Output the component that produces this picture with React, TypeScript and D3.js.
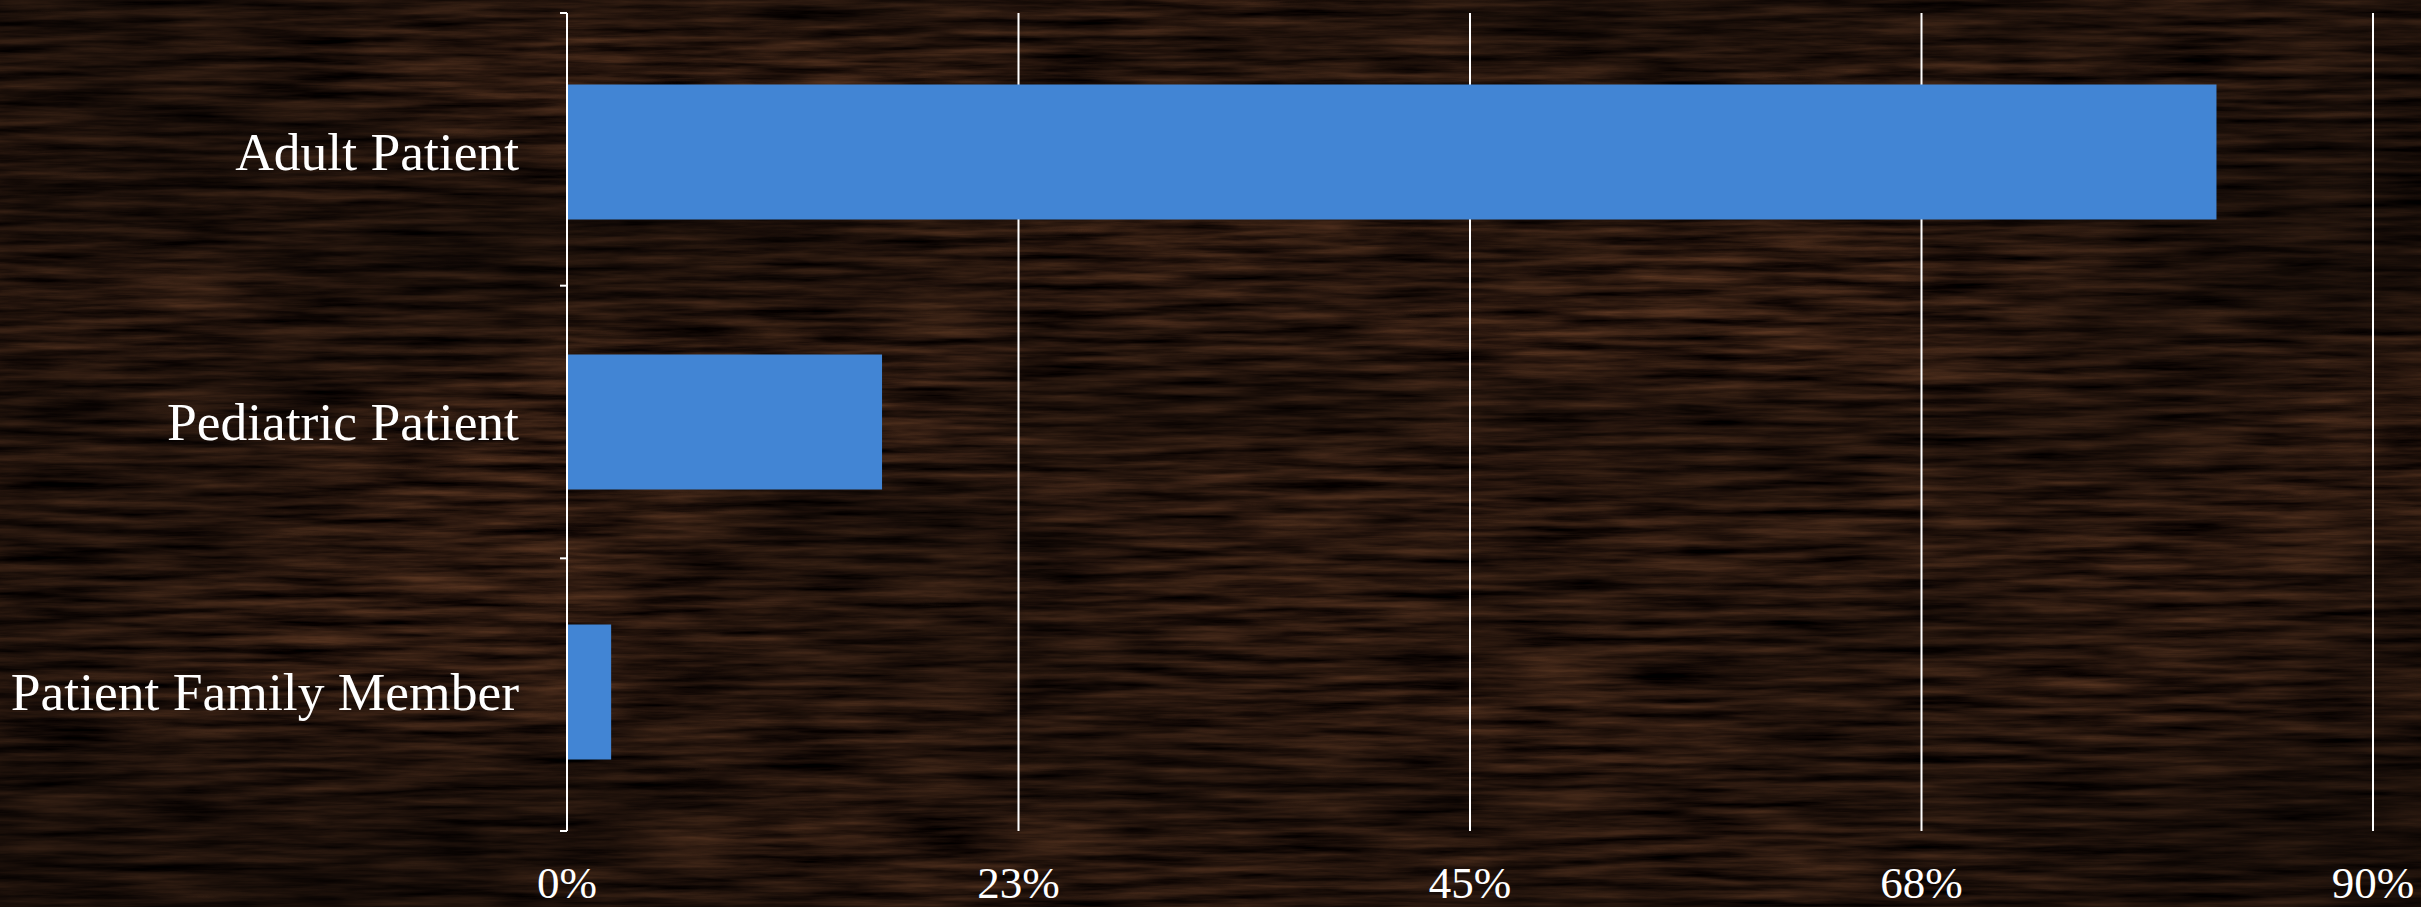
import React from "react";
import * as d3 from "d3";

const categories = ["Adult Patient", "Pediatric Patient", "Patient Family Member"];
const values = [0.822, 0.157, 0.022];
const tickValues = [0, 0.225, 0.45, 0.675, 0.9];

const W = 2421;
const H = 907;
const left = 567;
const right = 2373;
const top = 13;
const bottom = 831;

export default function App() {
  const x = d3.scaleLinear().domain([0, 0.9]).range([left, right]);
  const y = d3
    .scaleBand<string>()
    .domain(categories)
    .range([top + 4, bottom - 4])
    .paddingInner(0.5)
    .paddingOuter(0.25);
  const boundaries = d3.range(categories.length + 1).map((i) => top + i * ((bottom - top) / categories.length));
  const fmt = (v: number) => Math.round(v * 100) + "%";
  const serif = "'Liberation Serif', 'Times New Roman', serif";

  return (
    <svg
      width={W}
      height={H}
      style={{ position: "fixed", left: 0, top: 0, display: "block" }}
    >
      <defs>
        <filter id="wood" x="0" y="0" width="100%" height="100%" colorInterpolationFilters="sRGB">
          <feTurbulence type="fractalNoise" baseFrequency="0.008 0.11" numOctaves={5} seed={11} result="n" />
          <feColorMatrix
            in="n"
            type="matrix"
            values="0.5 0 0 0 -0.07  0.32 0 0 0 -0.06  0.2 0 0 0 -0.04  0 0 0 0 1"
            result="c"
          />
          <feTurbulence type="fractalNoise" baseFrequency="0.0015 0.006" numOctaves={2} seed={3} result="m" />
          <feColorMatrix
            in="m"
            type="matrix"
            values="0 0 0 0 0  0 0 0 0 0  0 0 0 0 0  0.9 0 0 0 -0.32"
            result="shade"
          />
          <feComposite in="shade" in2="c" operator="over" />
        </filter>
        <radialGradient id="vig" cx="0.5" cy="0.45" r="0.75">
          <stop offset="0" stopColor="#000" stopOpacity={0} />
          <stop offset="0.6" stopColor="#000" stopOpacity={0.1} />
          <stop offset="1" stopColor="#000" stopOpacity={0.5} />
        </radialGradient>
      </defs>
      <rect x={0} y={0} width={W} height={H} fill="#2a170e" />
      <rect x={0} y={0} width={W} height={H} filter="url(#wood)" />
      <rect x={0} y={0} width={W} height={H} fill="url(#vig)" />

      {tickValues.slice(1).map((t) => (
        <line key={"g" + t} x1={x(t)} x2={x(t)} y1={top} y2={bottom} stroke="#ffffff" strokeWidth={2} />
      ))}

      {categories.map((c, i) => (
        <rect
          key={c}
          x={x(0)}
          y={y(c)}
          width={x(values[i]) - x(0)}
          height={y.bandwidth()}
          fill="#4285d4"
        />
      ))}

      <line x1={x(0)} x2={x(0)} y1={top} y2={bottom} stroke="#ffffff" strokeWidth={2} />
      {boundaries.map((b, i) => (
        <line key={"t" + i} x1={x(0) - 7} x2={x(0)} y1={b} y2={b} stroke="#ffffff" strokeWidth={2} />
      ))}

      {categories.map((c) => (
        <text
          key={"l" + c}
          x={x(0) - 48}
          y={(y(c) as number) + y.bandwidth() / 2}
          dy="0.34em"
          textAnchor="end"
          fill="#ffffff"
          fontFamily={serif}
          fontSize={53.5}
        >
          {c}
        </text>
      ))}

      {tickValues.map((t) => (
        <text
          key={"x" + t}
          x={x(t)}
          y={898}
          textAnchor="middle"
          fill="#ffffff"
          fontFamily={serif}
          fontSize={45}
        >
          {fmt(t)}
        </text>
      ))}
    </svg>
  );
}
